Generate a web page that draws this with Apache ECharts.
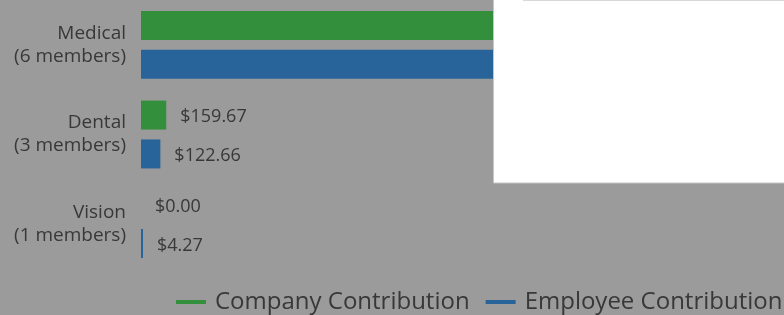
<!DOCTYPE html>
<html>
<head>
<meta charset="utf-8">
<script src="https://cdn.jsdelivr.net/npm/echarts@6/dist/echarts.min.js"></script>
<style>
html,body{margin:0;padding:0;background:#9b9b9b;}
#chart{width:784px;height:315px;}
</style>
</head>
<body>
<div id="chart"></div>
<script>
// Data
const categories = ['Medical\n(6 members)', 'Dental\n(3 members)', 'Vision\n(1 members)'];
const seriesNames = ['Company Contribution', 'Employee Contribution'];
const companyValues = [3133.42, 159.67, 0.00];   // Medical values hidden under the overlay (estimated)
const employeeValues = [3306.24, 122.66, 4.27];

const GREEN = '#348f3c';
const BLUE = '#28649a';
const TEXT = '#383838';
const FONT = '"Open Sans", "DejaVu Sans", sans-serif';

const chart = echarts.init(document.getElementById('chart'), null, {renderer: 'canvas'});

const labelOpt = {
  show: true,
  position: 'right',
  distance: 14,
  offset: [0, 2],
  color: TEXT,
  fontFamily: FONT,
  fontSize: 18,
  formatter: p => '$' + Number(p.value).toFixed(2)
};

chart.setOption({
  backgroundColor: '#9b9b9b',
  animation: false,
  grid: {left: 141, right: 43, top: -1, bottom: 46, containLabel: false},
  xAxis: {
    type: 'value', min: 0, max: 3800, show: false
  },
  yAxis: {
    type: 'category',
    data: categories,
    inverse: true,
    axisLine: {show: false},
    axisTick: {show: false},
    splitLine: {show: false},
    axisLabel: {
      margin: 15,
      color: TEXT,
      fontFamily: FONT,
      fontSize: 19,
      lineHeight: 23,
      align: 'right'
    }
  },
  legend: {
    left: 176,
    top: 290,
    width: 608,
    padding: 0,
    icon: 'rect',
    itemWidth: 30,
    itemHeight: 4,
    itemGap: 16,
    textStyle: {color: TEXT, fontFamily: FONT, fontSize: 24, padding: [0, 0, 0, 4]},
    data: seriesNames
  },
  series: [
    {
      name: seriesNames[0], type: 'bar', data: companyValues,
      barWidth: 29, barGap: '34%',
      itemStyle: {color: GREEN},
      label: labelOpt
    },
    {
      name: seriesNames[1], type: 'bar', data: employeeValues,
      barWidth: 29, barGap: '34%', barMinHeight: 2,
      itemStyle: {color: BLUE},
      label: labelOpt
    }
  ],
  graphic: [
    {
      type: 'rect', z: 100,
      shape: {x: 493.5, y: -2, width: 300, height: 185},
      style: {fill: '#ffffff', stroke: '#c6c6c6', lineWidth: 1}
    },
    {
      type: 'line', z: 101,
      shape: {x1: 523, y1: 0.5, x2: 784, y2: 0.5},
      style: {stroke: '#d8d8d8', lineWidth: 1}
    }
  ]
});
</script>
</body>
</html>
